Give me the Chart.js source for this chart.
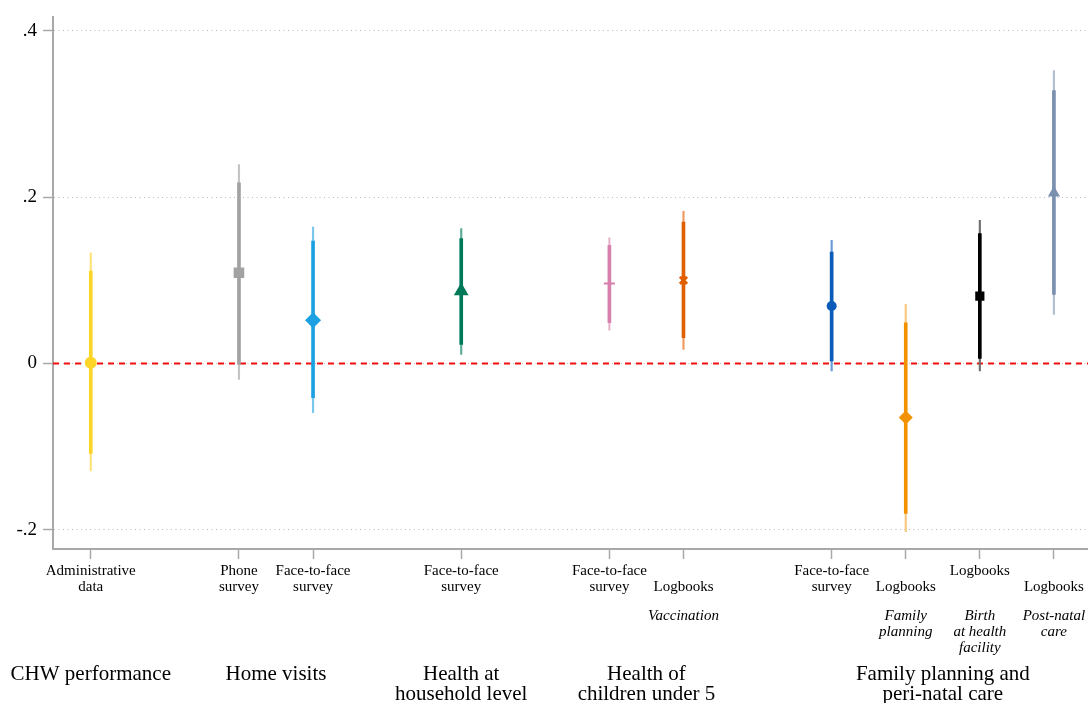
<!DOCTYPE html>
<html>
<head>
<meta charset="utf-8">
<script src="https://cdn.jsdelivr.net/npm/chart.js@4/dist/chart.umd.min.js"></script>
<style>
  html, body { margin: 0; padding: 0; background: #fff; }
  #wrap { width: 1088px; height: 703px; }
</style>
</head>
<body>
<div id="wrap"><canvas id="coefChart" width="1088" height="703"></canvas></div>
<script>
// ═════════════════════════════════════════════════════════════
// DATA
// ═════════════════════════════════════════════════════════════

// position of each estimate along the x axis (in axis units)
const xPositions = [0, 2, 3, 5, 7, 8, 10, 11, 12, 13];

const tickLabels = [
    ['Administrative', 'data'],
    ['Phone', 'survey'],
    ['Face-to-face', 'survey'],
    ['Face-to-face', 'survey'],
    ['Face-to-face', 'survey'],
    ['', 'Logbooks'],
    ['Face-to-face', 'survey'],
    ['', 'Logbooks'],
    ['Logbooks'],
    ['', 'Logbooks'],
];

// italic sub-notes under some of the tick labels
const tickNotes = [[], [], [], [], [], ['Vaccination'], [], ['Family', 'planning'], ['Birth', 'at health', 'facility'], ['Post-natal', 'care']];

const groupNames = [
    ['CHW performance'],
    ['Home visits'],
    ['Health at', 'household level'],
    ['Health of', 'children under 5'],
    ['Family planning and', 'peri-natal care'],
];
const groupCenters = [0, 2.5, 5, 7.5, 11.5];

const estimates = [0.001, 0.109, 0.052, 0.087, 0.096, 0.100, 0.069, -0.065, 0.081, 0.205];
const ci90Low  = [-0.108, -0.001, -0.041, 0.023, 0.049, 0.031, 0.003, -0.180, 0.006, 0.083];
const ci90High = [0.111, 0.217, 0.147, 0.150, 0.142, 0.170, 0.134, 0.049, 0.156, 0.328];
const ci95Low  = [-0.129, -0.019, -0.059, 0.011, 0.040, 0.017, -0.009, -0.202, -0.009, 0.059];
const ci95High = [0.133, 0.239, 0.164, 0.162, 0.151, 0.183, 0.148, 0.071, 0.172, 0.352];

const yTicks = [-0.2, 0, 0.2, 0.4];

// ═════════════════════════════════════════════════════════════
// STYLE
// ═════════════════════════════════════════════════════════════

const colors = ['#fcd526', '#a2a2a2', '#1ba1e2', '#00785a', '#d680ab', '#e05f00', '#0a5cb8', '#f29200', '#000000', '#7b8fae'];
const thinColors = ['#fde27a', '#c4c4c4', '#79c6ee', '#5eab97', '#e8b4cd', '#ee9a5f', '#6a9ad6', '#f8c77f', '#707070', '#b2bed0'];
const markerStyles = ['circle', 'rect', 'rectRot', 'triangle', 'cross', 'crossRot', 'circle', 'rectRot', 'rect', 'triangle'];
const markerSizes = [6, 7.5, 8, 8.5, 5.5, 5, 5, 7, 6.5, 7];
const markerBorders = [0, 0, 0, 0, 2, 3, 0, 0, 0, 0];

const X_MIN = -0.51, X_MAX = 13.46;
const Y_MIN = -0.2229, Y_MAX = 0.4159;
const SERIF = '"Liberation Serif", "DejaVu Serif", serif';
const AXIS_GREY = '#a8a8a8';

// ═════════════════════════════════════════════════════════════
// PLUGIN: italic notes + group titles under the x axis
// ═════════════════════════════════════════════════════════════

const xNotesPlugin = {
    id: 'xNotes',
    afterDraw(chart) {
        const ctx = chart.ctx;
        const xs = chart.scales.x;
        ctx.save();
        ctx.fillStyle = '#000';
        ctx.textAlign = 'center';
        ctx.textBaseline = 'middle';

        ctx.font = 'italic 15px ' + SERIF;
        tickNotes.forEach((lines, i) => {
            const px = xs.getPixelForValue(xPositions[i]);
            lines.forEach((t, j) => ctx.fillText(t, px, 616 + j * 15.8));
        });

        ctx.font = '21px ' + SERIF;
        groupNames.forEach((lines, i) => {
            const px = xs.getPixelForValue(groupCenters[i]);
            lines.forEach((t, j) => ctx.fillText(t, px, 674 + j * 20.5));
        });
        ctx.restore();
    }
};

// ═════════════════════════════════════════════════════════════
// CHART
// ═════════════════════════════════════════════════════════════

const pointData = xPositions.map((x, i) => ({ x: x, y: estimates[i] }));
const thickData = xPositions.map((x, i) => ({ x: x, y: [ci90Low[i], ci90High[i]] }));
const thinData = xPositions.map((x, i) => ({ x: x, y: [ci95Low[i], ci95High[i]] }));

new Chart(document.getElementById('coefChart').getContext('2d'), {
    type: 'scatter',
    data: {
        datasets: [
            {
                type: 'scatter',
                data: pointData,
                pointStyle: markerStyles,
                pointRadius: markerSizes,
                pointBackgroundColor: colors,
                pointBorderColor: colors,
                pointBorderWidth: markerBorders,
                order: 0,
            },
            {
                type: 'bar',
                data: thickData,
                backgroundColor: colors,
                barThickness: 3,
                grouped: false,
                borderWidth: 0,
                borderSkipped: false,
                order: 1,
            },
            {
                type: 'bar',
                data: thinData,
                backgroundColor: thinColors,
                barThickness: 1.5,
                grouped: false,
                borderWidth: 0,
                borderSkipped: false,
                order: 2,
            },
            {
                type: 'line',
                data: [{ x: X_MIN, y: 0 }, { x: X_MAX, y: 0 }],
                borderColor: '#f01010',
                borderWidth: 2,
                borderDash: [6, 5],
                pointRadius: 0,
                order: 3,
            },
        ],
    },
    options: {
        responsive: false,
        animation: false,
        layout: { autoPadding: false, padding: { top: 15, right: 0, bottom: 0, left: 0 } },
        plugins: {
            legend: { display: false },
            tooltip: { enabled: false },
        },
        scales: {
            x: {
                type: 'linear',
                min: X_MIN,
                max: X_MAX,
                offset: false,
                afterBuildTicks: (scale) => { scale.ticks = xPositions.map(v => ({ value: v })); },
                afterFit: (scale) => {
                    scale.height = 154;
                    scale.paddingLeft = 0;
                    scale.paddingRight = 0;
                },
                ticks: {
                    autoSkip: false,
                    maxRotation: 0,
                    minRotation: 0,
                    padding: 4,
                    color: '#000',
                    font: { family: SERIF, size: 15, lineHeight: 1.08 },
                    callback: (v) => tickLabels[xPositions.indexOf(v)] || '',
                },
                grid: {
                    offset: false,
                    drawOnChartArea: false,
                    drawTicks: true,
                    tickLength: 10,
                    tickColor: AXIS_GREY,
                    tickWidth: 1.5,
                },
                border: { display: true, color: AXIS_GREY, width: 2 },
            },
            y: {
                type: 'linear',
                min: Y_MIN,
                max: Y_MAX,
                afterBuildTicks: (scale) => { scale.ticks = yTicks.map(v => ({ value: v })); },
                afterFit: (scale) => { scale.width = 53; },
                ticks: {
                    padding: 6,
                    color: '#000',
                    font: { family: SERIF, size: 19 },
                    callback: (v) => {
                        if (Math.abs(v) < 1e-9) return '0';
                        return (v < 0 ? '-' : '') + Math.abs(v).toFixed(1).replace(/^0/, '');
                    },
                },
                grid: {
                    color: '#b8b8b8',
                    lineWidth: 1,
                    drawTicks: true,
                    tickLength: 10,
                    tickColor: AXIS_GREY,
                    tickWidth: 1.5,
                    tickBorderDash: [],
                },
                border: { display: true, color: AXIS_GREY, width: 2, dash: [1, 3.5] },
            },
        },
    },
    plugins: [xNotesPlugin],
});
</script>
</body>
</html>
